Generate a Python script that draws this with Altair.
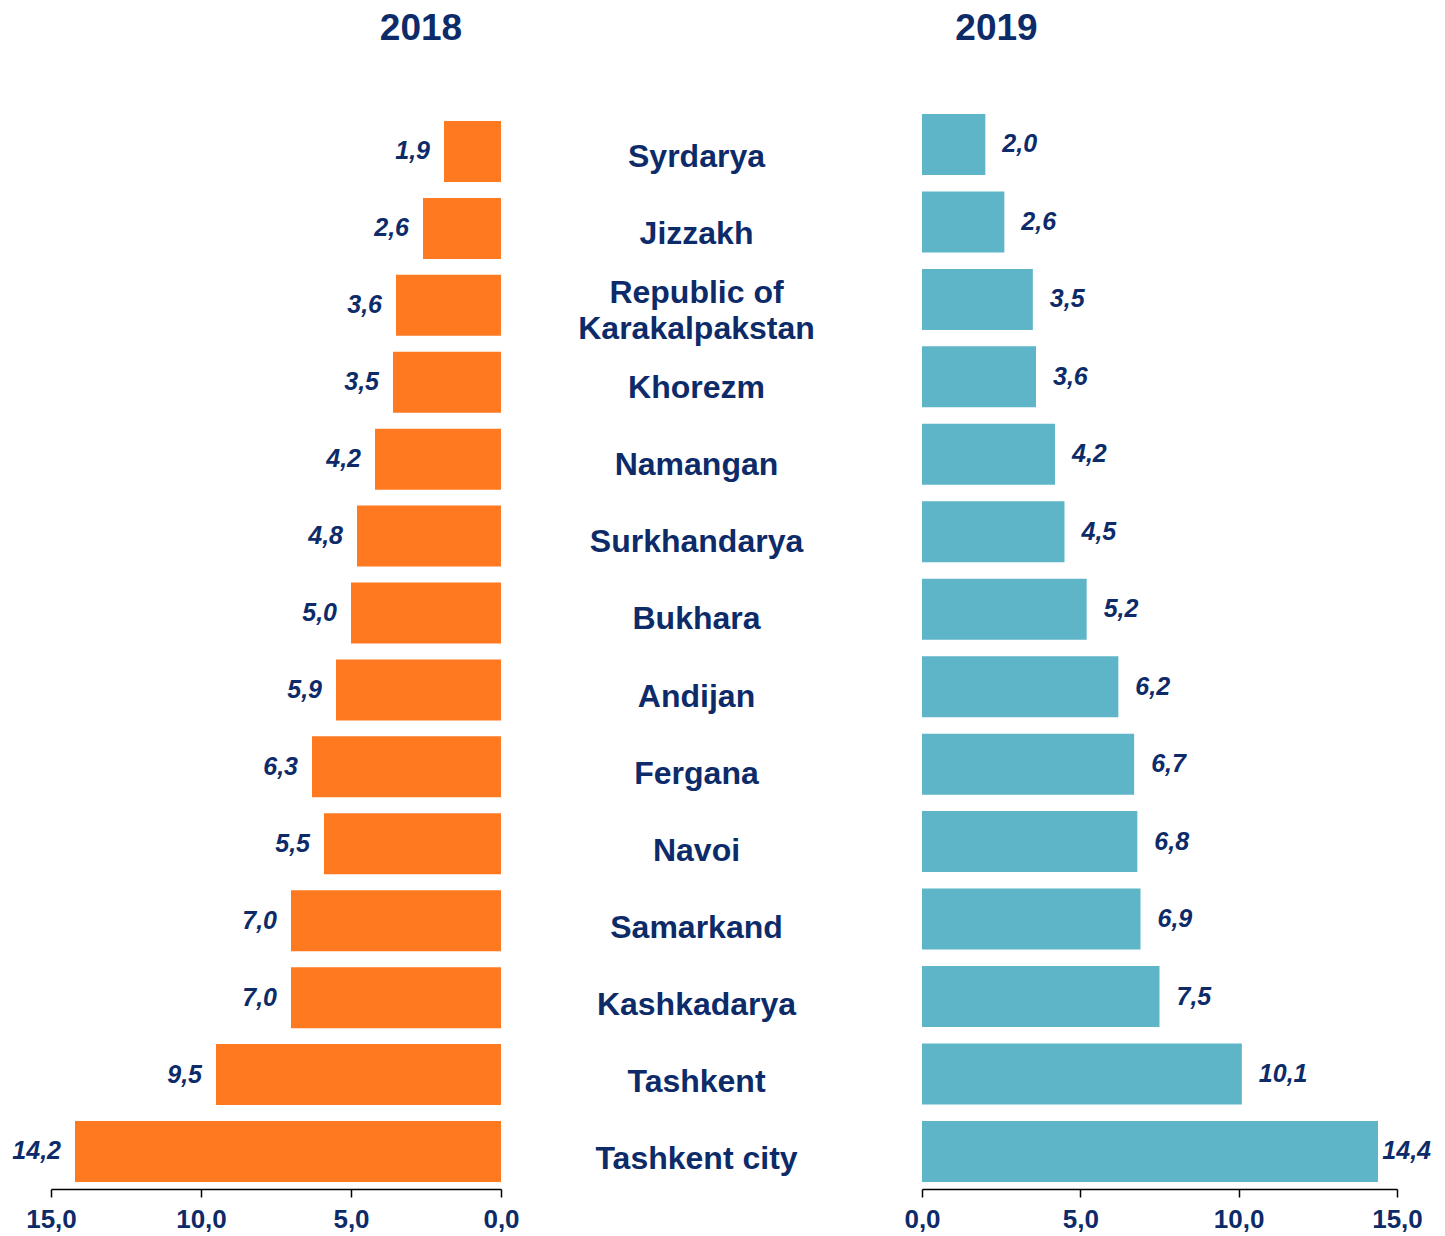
import altair as alt
import pandas as pd

regions = ["Syrdarya", "Jizzakh", "Republic of Karakalpakstan", "Khorezm", "Namangan",
           "Surkhandarya", "Bukhara", "Andijan", "Fergana", "Navoi", "Samarkand",
           "Kashkadarya", "Tashkent", "Tashkent city"]
region_labels = ["Syrdarya", "Jizzakh", "Republic of\nKarakalpakstan", "Khorezm", "Namangan",
                 "Surkhandarya", "Bukhara", "Andijan", "Fergana", "Navoi", "Samarkand",
                 "Kashkadarya", "Tashkent", "Tashkent city"]
# bar lengths as drawn in 2018, and the value labels printed next to them
bars_2018 = [1.9, 2.6, 3.5, 3.6, 4.2, 4.8, 5.0, 5.5, 6.3, 5.9, 7.0, 7.0, 9.5, 14.2]
labels_2018 = ["1,9", "2,6", "3,6", "3,5", "4,2", "4,8", "5,0", "5,9", "6,3", "5,5",
               "7,0", "7,0", "9,5", "14,2"]
values_2019 = [2.0, 2.6, 3.5, 3.6, 4.2, 4.5, 5.2, 6.2, 6.7, 6.8, 6.9, 7.5, 10.1, 14.4]
labels_2019 = ["2,0", "2,6", "3,5", "3,6", "4,2", "4,5", "5,2", "6,2", "6,7", "6,8",
               "6,9", "7,5", "10,1", "14,4"]
tick_values = [0, 5, 10, 15]

NAVY = "#0D2B69"
ORANGE = "#FF7920"
TEAL = "#5EB5C7"
FONT = "Liberation Sans"

df = pd.DataFrame({
    "region": regions,
    "label": region_labels,
    "v18": bars_2018,
    "t18": labels_2018,
    "v19": values_2019,
    "t19": labels_2019,
})

H = 1079

def x_axis():
    return alt.Axis(values=tick_values, grid=False, domainColor="black", domainWidth=1.5,
                    tickColor="black", tickWidth=1.5, tickSize=8, labelFontSize=26,
                    labelFont=FONT, labelFontWeight="bold", labelColor=NAVY, labelPadding=9,
                    labelFlush=False, title=None,
                    labelExpr="replace(format(datum.value, '.1f'), '.', ',')")

def title(txt, dx):
    return alt.TitleParams(txt, fontSize=37, font=FONT, fontWeight="bold", color=NAVY,
                           anchor="middle", dx=dx, offset=62)

label_style = dict(font=FONT, fontSize=25, fontWeight="bold", fontStyle="italic",
                   color=NAVY, baseline="middle")

# ---- 2018 (left) ----
y_left = alt.Y("region:N", sort=regions, axis=None,
               scale=alt.Scale(paddingInner=0.207, paddingOuter=0.117, align=0.61))
base_l = alt.Chart(df).encode(y=y_left)
left_bars = base_l.mark_bar(color=ORANGE).encode(
    x=alt.X("v18:Q", scale=alt.Scale(domain=[0, 15], reverse=True, nice=False), axis=x_axis()))
left_text = base_l.mark_text(align="right", dx=-14, **label_style).encode(
    x="v18:Q", text="t18:N")
left = alt.layer(left_bars, left_text).properties(width=450, height=H, title=title("2018", 145))

# ---- region names (center) ----
name_style = dict(font=FONT, fontSize=32, fontWeight="bold", color=NAVY,
                  align="center", baseline="middle", lineBreak="\n", lineHeight=36, dx=-15)
y_center = alt.Y("region:N", sort=regions, axis=None,
                 scale=alt.Scale(paddingInner=0.207, paddingOuter=0.117, align=0.61))
base_c = alt.Chart(df).encode(y=y_center, text="label:N")
names_single = base_c.transform_filter("indexof(datum.label, '\\n') < 0").mark_text(
    dy=0, **name_style)
names_multi = base_c.transform_filter("indexof(datum.label, '\\n') >= 0").mark_text(
    dy=-18, **name_style)
center = alt.layer(names_single, names_multi).properties(width=421, height=H,
                                                        title=title(" ", 0))

# ---- 2019 (right) ----
y_right = alt.Y("region:N", sort=regions, axis=None,
                scale=alt.Scale(paddingInner=0.2125, paddingOuter=0.071, align=0.36))
base_r = alt.Chart(df).encode(y=y_right)
right_bars = base_r.mark_bar(color=TEAL).encode(
    x=alt.X("v19:Q", scale=alt.Scale(domain=[0, 15], nice=False), axis=x_axis()))
right_text = base_r.transform_calculate(lx="min(datum.v19, 14)").mark_text(
    align="left", dx=17, **label_style).encode(x="lx:Q", text="t19:N")
right = alt.layer(right_bars, right_text).properties(width=475, height=H,
                                                    title=title("2019", -163))

chart = alt.hconcat(left, center, right, spacing=0, bounds="flush").properties(
    padding={"left": 4, "top": 2, "right": 0, "bottom": 0}
).configure_view(stroke=None)

chart.save("out.html", embed_options={"renderer": "svg", "actions": False})
